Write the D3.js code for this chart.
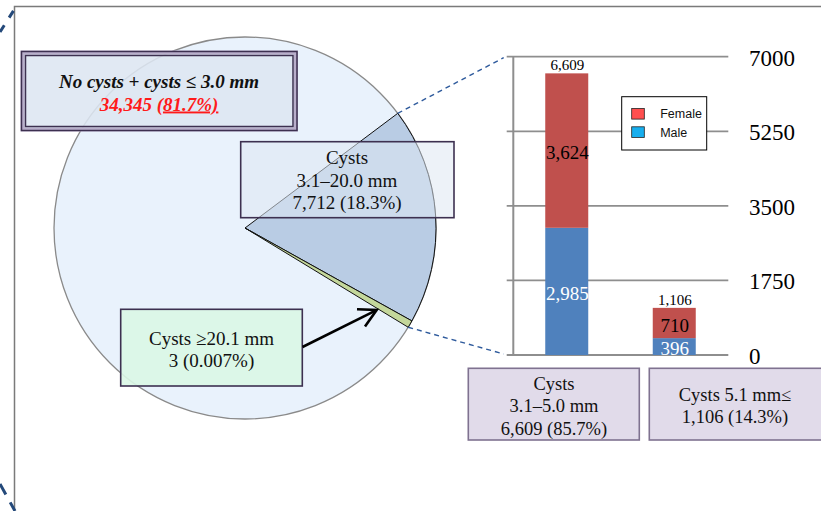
<!DOCTYPE html>
<html>
<head>
<meta charset="utf-8">
<script src="https://cdn.jsdelivr.net/npm/d3@7"></script>
<style>
  html, body { margin: 0; padding: 0; background: #fff; }
  svg { display: block; }
  text { font-family: "Liberation Serif", "Times New Roman", serif; }
</style>
</head>
<body>
<svg id="chart" width="821" height="511"></svg>
<script>
// Pie: all subjects split by cyst size
const pieCategories = ["No cysts + cysts ≤ 3.0 mm", "Cysts 3.1–20.0 mm", "Cysts ≥20.1 mm"];
const pieValues = [34345, 7712, 3];
const piePercents = ["81.7%", "18.3%", "0.007%"];

// Bars: breakdown of the 3.1–20.0 mm group
const barCategories = ["Cysts 3.1–5.0 mm", "Cysts 5.1 mm≤"];
const barLines = [["Cysts", "3.1–5.0 mm", "6,609 (85.7%)"], ["Cysts 5.1 mm≤", "1,106 (14.3%)"]];
const maleValues = [2985, 396];
const femaleValues = [3624, 710];
const barTotals = [6609, 1106];
const seriesNames = ["Female", "Male"];
const yTicks = [0, 1750, 3500, 5250, 7000];

const svg = d3.select("#chart");
const fmt = d3.format(",");
const deg = Math.PI / 180;

// ---------- outer frame ----------
svg.append("path")
  .attr("d", "M14.5,511 L14.5,6.5 L821,6.5")
  .attr("fill", "none").attr("stroke", "#7a7a7a").attr("stroke-width", 1.5);
svg.append("line").attr("x1", 0).attr("y1", 32).attr("x2", 14).attr("y2", 10)
  .attr("stroke", "#24497a").attr("stroke-width", 3).attr("stroke-dasharray", "8,9");
svg.append("line").attr("x1", 0).attr("y1", 484).attr("x2", 15).attr("y2", 511)
  .attr("stroke", "#24497a").attr("stroke-width", 3).attr("stroke-dasharray", "12,9");

// ---------- pie ----------
const cx = 245, cy = 228, R = 191;
const pieG = svg.append("g").attr("transform", `translate(${cx},${cy})`);
const pieOrder = [1, 2, 0];           // start with the 3.1–20.0 mm slice
const minAngle = 2.2 * deg;           // keep the tiny slice visible
const pie = d3.pie().sort(null).value(i => pieValues[i])
  .startAngle(53.1 * deg).endAngle(53.1 * deg + 2 * Math.PI);
const arcs = pie(pieOrder);
// widen the smallest slice so it can be seen, taking the room from the large one
const small = arcs.find(a => a.data === 2);
const big = arcs.find(a => a.data === 0);
const extra = minAngle - (small.endAngle - small.startAngle);
if (extra > 0) { small.endAngle += extra; big.startAngle += extra; }

const arc = d3.arc().innerRadius(0).outerRadius(R);
const pieFill = { 0: "#e9f2fc", 1: "#b9cce4", 2: "#c4d79b" };

pieG.append("path").datum(big).attr("d", arc).attr("fill", pieFill[0]);
pieG.append("circle").attr("r", R).attr("fill", "none")
  .attr("stroke", "#8a8a8a").attr("stroke-width", 1.3);
arcs.filter(a => a.data !== 0).forEach(a => {
  pieG.append("path").datum(a).attr("d", arc)
    .attr("fill", pieFill[a.data]).attr("stroke", "#111").attr("stroke-width", 1)
    .attr("stroke-linejoin", "round");
});

// corner points of the exploded group for the connectors
const mid = arcs.find(a => a.data === 1);
const pt = ang => [cx + R * Math.sin(ang), cy - R * Math.cos(ang)];
const pTop = pt(mid.startAngle), pBot = pt(small.endAngle);

// ---------- bar chart ----------
const y = d3.scaleLinear().domain([0, 7000]).range([355, 56.7]);
const x = d3.scalePoint().domain(barCategories).range([513, 728]).padding(0.5);
const barW = 43;
const gridX0 = 506.7, gridX1 = 728.3, axisX = 513.3;

svg.append("g").selectAll("line").data(yTicks).join("line")
  .attr("x1", gridX0).attr("x2", gridX1)
  .attr("y1", d => y(d)).attr("y2", d => y(d))
  .attr("stroke", "#8e8e8e").attr("stroke-width", 1.8);
svg.append("line").attr("x1", axisX).attr("x2", axisX)
  .attr("y1", y(0)).attr("y2", y(7000))
  .attr("stroke", "#8e8e8e").attr("stroke-width", 2);
svg.append("g").selectAll("text").data(yTicks).join("text")
  .attr("x", 749).attr("y", d => y(d) + 1).attr("dy", "0.35em")
  .attr("font-size", 23).attr("fill", "#000")
  .text(d => d);

// dashed connectors from the pie slice to the bar axis
svg.append("line").attr("x1", pTop[0]).attr("y1", pTop[1]).attr("x2", gridX0 - 3).attr("y2", y(7000) + 1)
  .attr("stroke", "#2e5a9c").attr("stroke-width", 1.4).attr("stroke-dasharray", "5,4");
svg.append("line").attr("x1", pBot[0]).attr("y1", pBot[1]).attr("x2", gridX0 - 3).attr("y2", y(0) - 1)
  .attr("stroke", "#2e5a9c").attr("stroke-width", 1.4).attr("stroke-dasharray", "5,4");

const barsG = svg.append("g");
barCategories.forEach((c, i) => {
  const x0 = x(c) - barW / 2;
  barsG.append("rect").attr("x", x0).attr("width", barW)
    .attr("y", y(maleValues[i])).attr("height", y(0) - y(maleValues[i]))
    .attr("fill", "#4f81bd");
  barsG.append("rect").attr("x", x0).attr("width", barW)
    .attr("y", y(maleValues[i] + femaleValues[i]))
    .attr("height", y(maleValues[i]) - y(maleValues[i] + femaleValues[i]))
    .attr("fill", "#c0504d");
  // segment labels
  barsG.append("text").attr("x", x(c) + 0.5).attr("y", (y(maleValues[i]) + y(0)) / 2 + 2)
    .attr("dy", "0.35em").attr("text-anchor", "middle").attr("font-size", 19)
    .attr("fill", "#fff").text(fmt(maleValues[i]));
  barsG.append("text").attr("x", x(c) + 0.5)
    .attr("y", (y(maleValues[i]) + y(maleValues[i] + femaleValues[i])) / 2 + 2)
    .attr("dy", "0.35em").attr("text-anchor", "middle").attr("font-size", 19)
    .attr("fill", "#000").text(fmt(femaleValues[i]));
  // total above the bar
  barsG.append("text").attr("x", x(c) + 0.5).attr("y", y(barTotals[i]) - 3)
    .attr("text-anchor", "middle").attr("font-size", 15)
    .attr("fill", "#000").text(fmt(barTotals[i]));
});

// legend
const lg = svg.append("g").attr("transform", "translate(621.7,96.7)");
lg.append("rect").attr("width", 85).attr("height", 53.3)
  .attr("fill", "#fff").attr("stroke", "#000").attr("stroke-width", 1);
const legendColors = ["#ff4f4f", "#17aeee"];
seriesNames.forEach((n, i) => {
  lg.append("rect").attr("x", 10).attr("y", 11.8 + i * 18.3).attr("width", 12.6).attr("height", 10.6)
    .attr("fill", legendColors[i]).attr("stroke", "#222").attr("stroke-width", 0.8);
  lg.append("text").attr("x", 38.5).attr("y", 17.4 + i * 18.3).attr("dy", "0.35em")
    .style("font-family", "'Liberation Sans', Arial, sans-serif").attr("font-size", 12.5)
    .attr("fill", "#111").text(n);
});

// ---------- annotation boxes ----------
// large group label (double border)
const b1 = svg.append("g");
b1.append("rect").attr("x", 22.5).attr("y", 52.5).attr("width", 273.5).attr("height", 77)
  .attr("fill", "#dde6f1").attr("fill-opacity", 0.88)
  .attr("stroke", "#b9aecb").attr("stroke-width", 4);
b1.append("rect").attr("x", 21.5).attr("y", 51.5).attr("width", 275.5).attr("height", 79)
  .attr("fill", "none").attr("stroke", "#3d3050").attr("stroke-width", 1.5);
b1.append("rect").attr("x", 25.5).attr("y", 55.5).attr("width", 267.5).attr("height", 71)
  .attr("fill", "none").attr("stroke", "#3d3050").attr("stroke-width", 1.5);
b1.append("text").attr("x", 159).attr("y", 87.5).attr("text-anchor", "middle")
  .attr("font-size", 19).attr("font-weight", "bold").attr("font-style", "italic")
  .attr("fill", "#111").text("No cysts + cysts ≤ 3.0 mm");
const t1 = b1.append("text").attr("x", 159).attr("y", 110.5).attr("text-anchor", "middle")
  .attr("font-size", 19).attr("font-weight", "bold").attr("font-style", "italic")
  .attr("fill", "#ff1a1a");
t1.append("tspan").text(fmt(pieValues[0]) + " (");
t1.append("tspan").attr("text-decoration", "underline").text(piePercents[0] + ")");

// middle group label
const b2 = svg.append("g");
b2.append("rect").attr("x", 240.7).attr("y", 141.7).attr("width", 213.3).attr("height", 76)
  .attr("fill", "#dfe8f3").attr("fill-opacity", 0.55)
  .attr("stroke", "#3d3050").attr("stroke-width", 1.6);
["Cysts", "3.1–20.0 mm", fmt(pieValues[1]) + " (" + piePercents[1] + ")"].forEach((s, i) => {
  b2.append("text").attr("x", 347).attr("y", 164 + i * 22.7).attr("text-anchor", "middle")
    .attr("font-size", 19).attr("fill", "#111").text(s);
});

// smallest group label with arrow
const b3 = svg.append("g");
b3.append("rect").attr("x", 120.7).attr("y", 309.3).attr("width", 181.6).attr("height", 76.7)
  .attr("fill", "#daf7e6").attr("fill-opacity", 0.9)
  .attr("stroke", "#3d3050").attr("stroke-width", 1.6);
["Cysts ≥20.1 mm", pieValues[2] + " (" + piePercents[2] + ")"].forEach((s, i) => {
  b3.append("text").attr("x", 211.5).attr("y", 345 + i * 21.7).attr("text-anchor", "middle")
    .attr("font-size", 19).attr("fill", "#111").text(s);
});
svg.append("line").attr("x1", 302.5).attr("y1", 347).attr("x2", 375.5).attr("y2", 310.6)
  .attr("stroke", "#000").attr("stroke-width", 2.6);
svg.append("path").attr("d", "M357,309.3 L376.7,310 L365,326.5")
  .attr("fill", "none").attr("stroke", "#000").attr("stroke-width", 2.6)
  .attr("stroke-linejoin", "miter");

// bar category boxes
const boxDefs = [{ x: 468.3, w: 171, cx: 554, y0: 390 }, { x: 649.3, w: 173, cx: 735, y0: 400.5 }];
boxDefs.forEach((b, i) => {
  svg.append("rect").attr("x", b.x).attr("y", 368.3).attr("width", b.w).attr("height", 71.7)
    .attr("fill", "#e1dbea").attr("stroke", "#7f7290").attr("stroke-width", 1.6);
  barLines[i].forEach((s, j) => {
    svg.append("text").attr("x", b.cx).attr("y", b.y0 + j * 22.4).attr("text-anchor", "middle")
      .attr("font-size", 18.5).attr("fill", "#111").text(s);
  });
});
</script>
</body>
</html>
